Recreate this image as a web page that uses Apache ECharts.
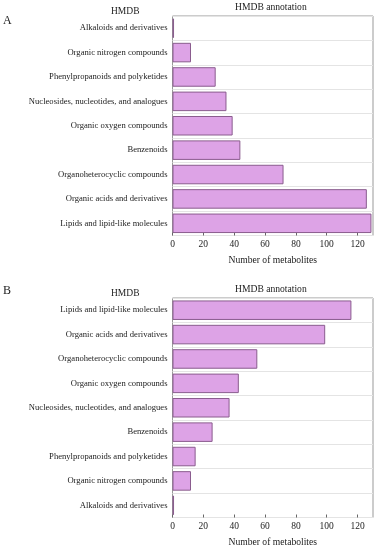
<!DOCTYPE html>
<html><head><meta charset="utf-8">
<script src="https://cdn.jsdelivr.net/npm/echarts@6/dist/echarts.min.js"></script>
<style>html,body{margin:0;padding:0;background:#fff}#c{width:378px;height:550px}</style>
</head><body><div id="c"></div>
<script>
const categoriesA = ["Alkaloids and derivatives","Organic nitrogen compounds","Phenylpropanoids and polyketides","Nucleosides, nucleotides, and analogues","Organic oxygen compounds","Benzenoids","Organoheterocyclic compounds","Organic acids and derivatives","Lipids and lipid-like molecules"];
const valuesA = [1,12,28,35,39,44,72,126,129];
const categoriesB = ["Lipids and lipid-like molecules","Organic acids and derivatives","Organoheterocyclic compounds","Organic oxygen compounds","Nucleosides, nucleotides, and analogues","Benzenoids","Phenylpropanoids and polyketides","Organic nitrogen compounds","Alkaloids and derivatives"];
const valuesB = [116,99,55,43,37,26,15,12,1];
const xTicks = [0,20,40,60,80,100,120];

const font = "Liberation Serif";
const txt = "#222";
function xAx(gi){return {gridIndex:gi,type:'value',min:0,max:130,interval:20,
  name:'Number of metabolites',nameLocation:'middle',nameGap:20,
  nameTextStyle:{fontFamily:font,fontSize:9.6,color:txt},
  axisLine:{show:false},axisTick:{show:true,inside:true,length:3,customValues:xTicks,lineStyle:{color:'#666'}},
  splitLine:{show:false},
  axisLabel:{fontFamily:font,fontSize:9.5,color:txt,margin:4,customValues:xTicks}};}
function yAx(gi,cats){return {gridIndex:gi,type:'category',data:cats,inverse:true,
  axisLine:{show:false},axisTick:{show:false},
  splitLine:{show:true,interval:0,lineStyle:{color:'#e4e4e4',width:1}},
  axisLabel:{fontFamily:font,fontSize:8.6,color:txt,margin:5}};}
const barStyle={color:'#dda3e6',borderColor:'#8a5c8e',borderWidth:1};
const chart = echarts.init(document.getElementById('c'),null,{renderer:'canvas'});
chart.setOption({
  animation:false,
  title:[
    {text:'A',left:3,top:15,padding:0,textStyle:{fontFamily:font,fontSize:12,fontWeight:'normal',color:txt}},
    {text:'B',left:3,top:285,padding:0,textStyle:{fontFamily:font,fontSize:12,fontWeight:'normal',color:txt}}
  ],
  graphic:[
    {type:'text',left:111,top:6,style:{text:'HMDB',font:'9.5px "Liberation Serif"',fill:txt}},
    {type:'text',left:111,top:288,style:{text:'HMDB',font:'9.5px "Liberation Serif"',fill:txt}},
    {type:'text',left:235,top:2,style:{text:'HMDB annotation',font:'9.6px "Liberation Serif"',fill:txt}},
    {type:'text',left:235,top:284,style:{text:'HMDB annotation',font:'9.6px "Liberation Serif"',fill:txt}}
  ],
  grid:[
    {left:172.5,right:5,top:16,height:219.5,show:true,borderColor:'#999',borderWidth:1,backgroundColor:'transparent'},
    {left:172.5,right:5,top:298,height:219.5,show:true,borderColor:'#999',borderWidth:1,backgroundColor:'transparent'}
  ],
  xAxis:[xAx(0),xAx(1)],
  yAxis:[yAx(0,categoriesA),yAx(1,categoriesB)],
  series:[
    {type:'bar',xAxisIndex:0,yAxisIndex:0,data:valuesA,barCategoryGap:'20%',itemStyle:barStyle},
    {type:'bar',xAxisIndex:1,yAxisIndex:1,data:valuesB,barCategoryGap:'20%',itemStyle:barStyle}
  ]
});
</script></body></html>
